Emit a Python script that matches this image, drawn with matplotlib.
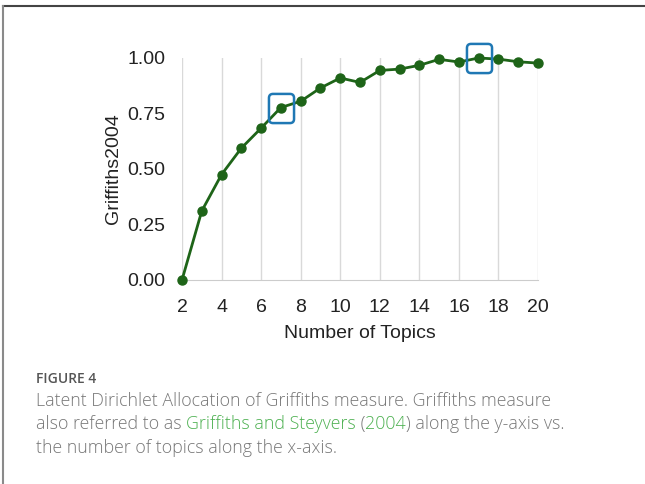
import numpy as np
import matplotlib.pyplot as plt
from matplotlib.patches import FancyBboxPatch
from matplotlib.lines import Line2D

topics = [2, 3, 4, 5, 6, 7, 8, 9, 10, 11, 12, 13, 14, 15, 16, 17, 18, 19, 20]
griffiths = [0.0, 0.311, 0.475, 0.594, 0.684, 0.777, 0.805, 0.865, 0.910, 0.890,
             0.944, 0.950, 0.967, 0.994, 0.982, 1.0, 0.995, 0.983, 0.977]
highlight = [7, 17]
xticks = [2, 4, 6, 8, 10, 12, 14, 16, 18, 20]
yticks = [0.0, 0.25, 0.5, 0.75, 1.0]

GREEN = '#1e6418'
BLUE = '#1f78b4'
CAP_GRAY = '#777777'
LINK = '#4cb050'

plt.rcParams['font.family'] = ['Liberation Sans', 'DejaVu Sans']

fig = plt.figure(figsize=(6.45, 4.84), dpi=100)
ax = fig.add_axes([182/645, 1 - 280/484, 356/645, 222/484])

ax.plot(topics, griffiths, color=GREEN, lw=2, marker='o', ms=6.5, clip_on=False, zorder=3)

# rounded square marker for the highlighted points
box = FancyBboxPatch((-0.43, -0.5), 0.86, 1.0, boxstyle='round,pad=0,rounding_size=0.14')
box_path = box.get_path()
hy = [griffiths[topics.index(t)] for t in highlight]
ax.plot(highlight, hy, ls='none', marker=box_path, ms=21, mfc='none', mec=BLUE, mew=1.8,
        clip_on=False, zorder=4)

ax.set_xlim(2, 20)
ax.set_ylim(0, 1)
ax.set_xticks(xticks)
ax.set_yticks(yticks)
ax.set_yticklabels(['%.2f' % v for v in yticks])
ax.tick_params(length=0, labelsize=14, labelcolor='#222222')
ax.tick_params(axis='x', pad=14)
ax.tick_params(axis='y', pad=12)
ax.grid(axis='x', color='#d9d9d9', lw=1)
for s in ['top', 'right', 'left']:
    ax.spines[s].set_visible(False)
ax.spines['bottom'].set_color('#cccccc')
ax.set_xlabel('Number of Topics', fontsize=14, color='#222222', labelpad=6)
ax.set_ylabel('Griffiths2004', fontsize=14, color='#222222', labelpad=4)

# frame of the figure panel
fig.add_artist(Line2D([3/645, 1], [1 - 6/484, 1 - 6/484], color='#444444', lw=1.5))
fig.add_artist(Line2D([3/645, 3/645], [0, 1 - 6/484], color='#8a8a8a', lw=1.5))

# caption
cap = dict(family=['Open Sans', 'DejaVu Sans'], fontsize=12.8, color=CAP_GRAY, weight='light')
fig.text(36/645, 1 - 379/484, 'FIGURE 4', family=['Open Sans', 'DejaVu Sans'],
         fontsize=10, weight='semibold', color='#555555', va='center')
fig.text(36/645, 1 - 401/484, 'Latent Dirichlet Allocation of Griffiths measure. Griffiths measure',
         va='center', **cap)
pieces = [('also referred to as ', CAP_GRAY), ('Griffiths and Steyvers', LINK), (' (', CAP_GRAY),
          ('2004', LINK), (') along the y-axis vs.', CAP_GRAY)]
prev = None
for txt, col in pieces:
    kw = dict(cap)
    kw['color'] = col
    if prev is None:
        prev = fig.text(36/645, 1 - 424/484, txt, va='center', **kw)
    else:
        prev = ax.annotate(txt, xy=(1, 0.5), xycoords=prev, va='center', ha='left', **kw)
fig.text(36/645, 1 - 448/484, 'the number of topics along the x-axis.', va='center', **cap)

fig.savefig('out.png', dpi=100)
